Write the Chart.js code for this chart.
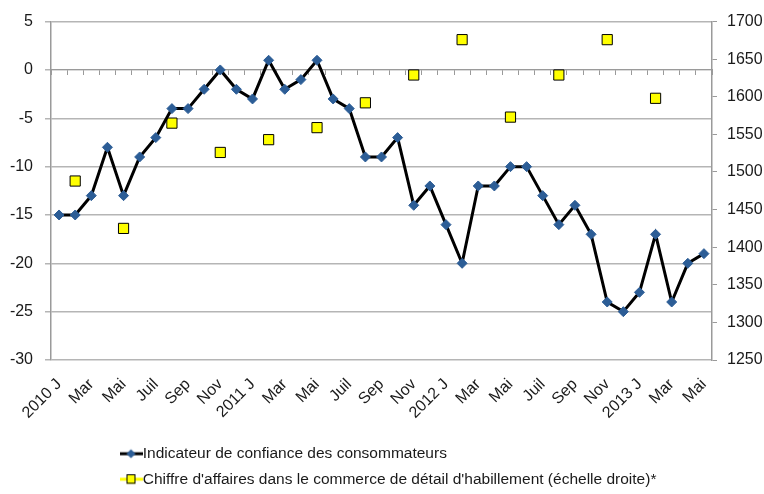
<!DOCTYPE html>
<html>
<head>
<meta charset="utf-8">
<script src="https://cdn.jsdelivr.net/npm/chart.js@4/dist/chart.umd.min.js"></script>
<style>
  html, body { margin: 0; padding: 0; background: #fff; }
  #wrap { width: 764px; height: 494px; }
</style>
</head>
<body>
<div id="wrap"><canvas id="c" width="764" height="494"></canvas></div>
<script>
// ---- Data ----
const categories = [
  '2010 J','Fév','Mar','Avr','Mai','Juin','Juil','Août','Sep','Oct','Nov','Déc',
  '2011 J','Fév','Mar','Avr','Mai','Juin','Juil','Août','Sep','Oct','Nov','Déc',
  '2012 J','Fév','Mar','Avr','Mai','Juin','Juil','Août','Sep','Oct','Nov','Déc',
  '2013 J','Fév','Mar','Avr','Mai'
];
// Tick labels shown on the axis (every second month)
const tickLabels = [
  '2010 J','','Mar','','Mai','','Juil','','Sep','','Nov','',
  '2011 J','','Mar','','Mai','','Juil','','Sep','','Nov','',
  '2012 J','','Mar','','Mai','','Juil','','Sep','','Nov','',
  '2013 J','','Mar','','Mai'
];
const confidenceValues = [
  -15,-15,-13,-8,-13,-9,-7,-4,-4,-2,0,-2,
  -3,1,-2,-1,1,-3,-4,-9,-9,-7,-14,-12,
  -16,-20,-12,-12,-10,-10,-13,-16,-14,-17,-24,-25,
  -23,-17,-24,-20,-19
];
const turnoverValues = [
  null,1488,null,null,1425,null,null,1565,null,null,1526,null,
  null,1543,null,null,1559,null,null,1592,null,null,1629,null,
  null,1676,null,null,1573,null,null,1629,null,null,1676,null,
  null,1598,null,null,null
];
const seriesNames = [
  'Indicateur de confiance des consommateurs',
  "Chiffre d'affaires dans le commerce de détail d'habillement (échelle droite)*"
];

// ---- Styles ----
const FONT = '"Liberation Sans", Arial, sans-serif';
const TEXT = '#1a1a1a';
const GRID = '#b5b5b5';
const AXIS = '#9a9a9a';
const BLUE = '#2c5d96';
const YELLOW = '#ffff00';

function legendIcon(lineColor, drawMarker) {
  const cv = document.createElement('canvas');
  cv.width = 23; cv.height = 12;
  const g = cv.getContext('2d');
  g.strokeStyle = lineColor; g.lineWidth = 3;
  g.beginPath(); g.moveTo(0, 6); g.lineTo(23, 6); g.stroke();
  drawMarker(g);
  return cv;
}
const iconConf = legendIcon('#000', g => {
  g.fillStyle = BLUE;
  g.beginPath(); g.moveTo(11.5, 1.5); g.lineTo(16, 6); g.lineTo(11.5, 10.5); g.lineTo(7, 6); g.closePath(); g.fill();
});
const iconTurn = legendIcon(YELLOW, g => {
  g.fillStyle = YELLOW; g.strokeStyle = '#000'; g.lineWidth = 1;
  g.fillRect(7, 1.5, 9, 9); g.strokeRect(7.5, 1.5, 8, 8.5);
});

const legendShift = {
  id: 'legendShift',
  afterLayout(chart) {
    const lg = chart.legend;
    if (lg) {
      lg.left = 117;
      lg.top += 3;
      lg.bottom += 3;
    }
  }
};

new Chart(document.getElementById('c'), {
  type: 'line',
  data: {
    labels: categories,
    datasets: [
      {
        label: seriesNames[0],
        data: confidenceValues,
        yAxisID: 'y',
        borderColor: '#000',
        borderWidth: 3,
        tension: 0,
        pointStyle: 'rectRot',
        pointRadius: 5,
        pointBackgroundColor: BLUE,
        pointBorderColor: BLUE,
        pointBorderWidth: 1
      },
      {
        label: seriesNames[1],
        data: turnoverValues,
        yAxisID: 'y1',
        showLine: false,
        borderColor: YELLOW,
        pointStyle: 'rect',
        pointRadius: 7.2,
        pointBackgroundColor: YELLOW,
        pointBorderColor: '#000',
        pointBorderWidth: 1
      }
    ]
  },
  options: {
    responsive: false,
    animation: false,
    devicePixelRatio: 1,
    layout: { padding: { top: 15, left: 0, right: 0, bottom: 0 } },
    plugins: {
      tooltip: { enabled: false },
      legend: {
        position: 'bottom',
        align: 'start',
        labels: {
          font: { family: FONT, size: 15.5 },
          color: TEXT,
          padding: 10,
          usePointStyle: true,
          pointStyleWidth: 8,
          generateLabels(chart) {
            return chart.data.datasets.map((ds, i) => ({
              text: ds.label,
              pointStyle: i === 0 ? iconConf : iconTurn,
              fillStyle: 'transparent',
              strokeStyle: 'transparent',
              lineWidth: 0,
              fontColor: TEXT,
              datasetIndex: i,
              hidden: false
            }));
          }
        }
      }
    },
    scales: {
      x: {
        type: 'category',
        offset: true,
        grid: { display: false },
        border: { display: false },
        ticks: {
          autoSkip: false,
          minRotation: 45,
          maxRotation: 45,
          padding: 7,
          color: TEXT,
          font: { family: FONT, size: 16 },
          callback: (v, i) => tickLabels[i]
        },
        afterFit(s) { s.height = 494 - 360 - (s.chart.legend ? s.chart.legend.height : 61); }
      },
      x0: {
        type: 'category',
        position: { y: 0 },
        offset: true,
        grid: { offset: true, drawOnChartArea: false, drawTicks: true, tickLength: 5, color: AXIS },
        border: { display: true, color: AXIS, width: 1 },
        ticks: { display: false, autoSkip: false }
      },
      y: {
        position: 'left',
        min: -30, max: 5,
        grid: { color: GRID, tickLength: 6, lineWidth: 1.5 },
        border: { color: AXIS, width: 1.5 },
        ticks: {
          stepSize: 5,
          padding: 12,
          color: TEXT,
          font: { family: FONT, size: 16 }
        },
        afterFit(s) { s.width = 51; }
      },
      y1: {
        position: 'right',
        min: 1250, max: 1700,
        grid: { drawOnChartArea: false, tickLength: 5, color: AXIS },
        border: { color: AXIS, width: 1.5 },
        ticks: {
          stepSize: 50,
          padding: 10,
          color: TEXT,
          font: { family: FONT, size: 16 },
          callback: v => String(v)
        },
        afterFit(s) { s.width = 52; }
      }
    }
  },
  plugins: [legendShift]
});
</script>
</body>
</html>
